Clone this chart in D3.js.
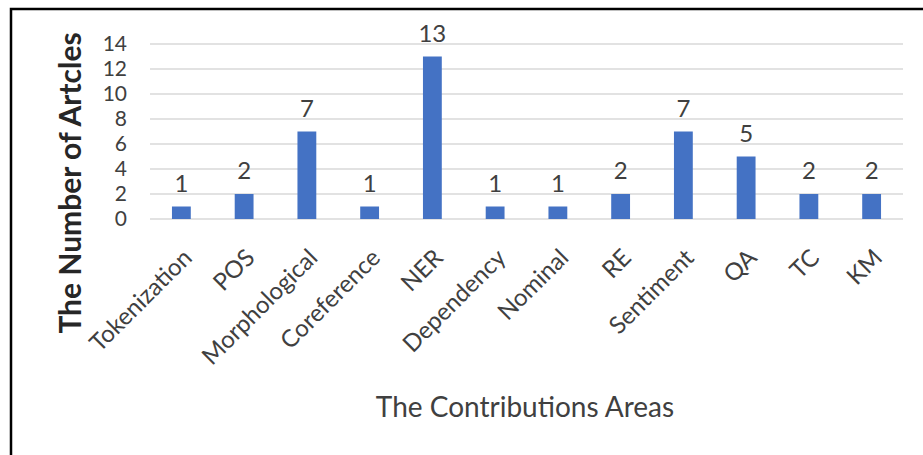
<!DOCTYPE html>
<html>
<head>
<meta charset="utf-8">
<script src="https://cdn.jsdelivr.net/npm/d3@7/dist/d3.min.js"></script>
<style>
  body { margin: 0; background: #fff; }
  text { font-family: Lato, "Open Sans", sans-serif; }
</style>
</head>
<body>
<div id="chart"></div>
<script>
var categories = ["Tokenization", "POS", "Morphological", "Coreference", "NER", "Dependency",
                  "Nominal", "RE", "Sentiment", "QA", "TC", "KM"];
var articles = [1, 2, 7, 1, 13, 1, 1, 2, 7, 5, 2, 2];
var yTicks = [0, 2, 4, 6, 8, 10, 12, 14];

var W = 923, H = 455;
var m = {top: 44, right: 20, bottom: 236, left: 150}
    , w = 903 - m.left
    , h = 219 - m.top;

var svg = d3.select("#chart").append("svg")
    .attr("width", W)
    .attr("height", H);

// frame
svg.append("rect")
    .attr("x", 11).attr("y", 9)
    .attr("width", W + 20).attr("height", H + 20)
    .attr("fill", "none")
    .attr("stroke", "#000")
    .attr("stroke-width", 2.5);

var g = svg.append("g")
    .attr("transform", "translate(" + m.left + "," + m.top + ")");

var x = d3.scaleBand().domain(categories).range([0, w]).paddingInner(0.7).paddingOuter(0.35);
var y = d3.scaleLinear().domain([0, 14]).range([h, 0]);

// gridlines
g.selectAll(".grid")
    .data(yTicks)
    .enter().append("line")
    .attr("class", "grid")
    .attr("x1", 0).attr("x2", w)
    .attr("y1", function(d) { return y(d); })
    .attr("y2", function(d) { return y(d); })
    .attr("stroke", "#d9d9d9")
    .attr("stroke-width", 1.5);

var yAxis = d3.axisLeft(y).tickValues(yTicks).tickSize(0).tickPadding(23);
g.append("g")
    .call(yAxis)
    .call(function(s) { s.select(".domain").remove(); })
    .selectAll("text")
    .attr("font-size", 21)
    .attr("fill", "#404040");

var xAxis = d3.axisBottom(x).tickSize(0).tickPadding(0);
g.append("g")
    .attr("transform", "translate(0," + h + ")")
    .call(xAxis)
    .call(function(s) { s.select(".domain").remove(); })
    .selectAll("text")
    .attr("font-size", 24)
    .attr("fill", "#404040")
    .attr("text-anchor", "end")
    .attr("x", -20)
    .attr("y", 37)
    .attr("dy", 0)
    .attr("transform", "rotate(-45)");

// bars
var bar = g.selectAll(".bar")
    .data(articles)
    .enter().append("g")
    .attr("class", "bar");

bar.append("rect")
    .attr("x", function(d, i) { return x(categories[i]); })
    .attr("width", x.bandwidth())
    .attr("y", function(d) { return y(d); })
    .attr("height", function(d) { return h - y(d); })
    .attr("fill", "#4472c4");

bar.append("text")
    .attr("text-anchor", "middle")
    .attr("x", function(d, i) { return x(categories[i]) + x.bandwidth() / 2; })
    .attr("y", function(d) { return y(d) - 15; })
    .attr("font-size", 24)
    .attr("fill", "#404040")
    .text(function(d) { return d; });

// axis titles
svg.append("text")
    .attr("transform", "translate(81," + 183 + ") rotate(-90)")
    .style("text-anchor", "middle")
    .attr("font-size", 30)
    .attr("font-weight", "bold")
    .attr("fill", "#262626")
    .text("The Number of Artcles");

svg.append("text")
    .attr("x", 525)
    .attr("y", 417)
    .style("text-anchor", "middle")
    .attr("font-size", 28)
    .attr("fill", "#404040")
    .text("The Contributions Areas");
</script>
</body>
</html>
